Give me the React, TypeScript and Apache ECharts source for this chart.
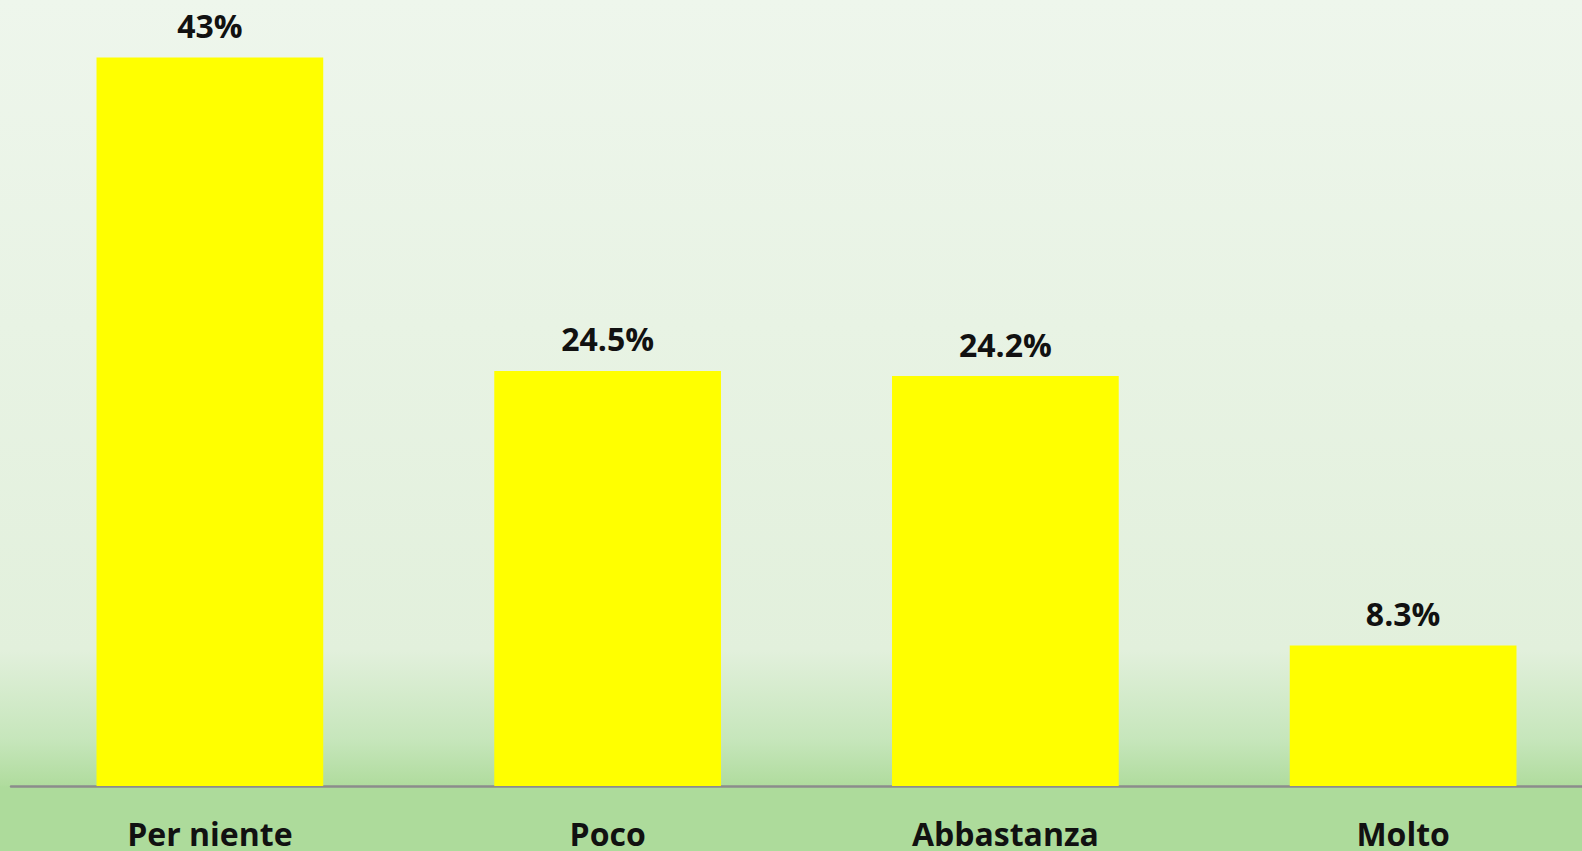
import React, { useEffect, useRef } from "react";
import * as echarts from "echarts";

const categories = ["Per niente", "Poco", "Abbastanza", "Molto"];
const values = [43, 24.5, 24.2, 8.3];
const valueLabels = ["43%", "24.5%", "24.2%", "8.3%"];

export default function App() {
  const ref = useRef<HTMLDivElement>(null);
  useEffect(() => {
    if (!ref.current) return;
    const chart = echarts.init(ref.current, null, { renderer: "svg" });
    chart.setOption({
      animation: false,
      backgroundColor: "transparent",
      grid: { left: 11, top: 0, right: 8, bottom: 65, containLabel: false },
      xAxis: {
        type: "category",
        data: categories,
        axisLine: { show: true, lineStyle: { color: "#8c8c8c", width: 2.5 } },
        axisTick: { show: false },
        axisLabel: {
          margin: 31,
          fontFamily: "Open Sans",
          fontWeight: "bold",
          fontSize: 32,
          color: "#111",
        },
      },
      yAxis: {
        type: "value",
        min: 0,
        max: 46.4,
        show: false,
        splitLine: { show: false },
      },
      series: [
        {
          type: "bar",
          data: values,
          barWidth: "57%",
          itemStyle: { color: "#ffff00" },
          label: {
            show: true,
            position: "top",
            distance: 16,
            fontFamily: "Open Sans",
            fontWeight: "bold",
            fontSize: 32,
            color: "#111",
            formatter: (p: any) => valueLabels[p.dataIndex],
          },
        },
      ],
    });
    return () => chart.dispose();
  }, []);
  return (
    <div
      style={{
        position: "absolute",
        left: 0,
        top: 0,
        width: 1582,
        height: 851,
        background:
          "linear-gradient(to bottom, #eef6ec 0px, #e2f0dc 650px, #c6e6bb 740px, #b0dc9e 785px, #addb9b 787px, #addb9b 851px)",
        overflow: "hidden",
      }}
    >
      <div ref={ref} style={{ width: 1610, height: 851 }} />
    </div>
  );
}
